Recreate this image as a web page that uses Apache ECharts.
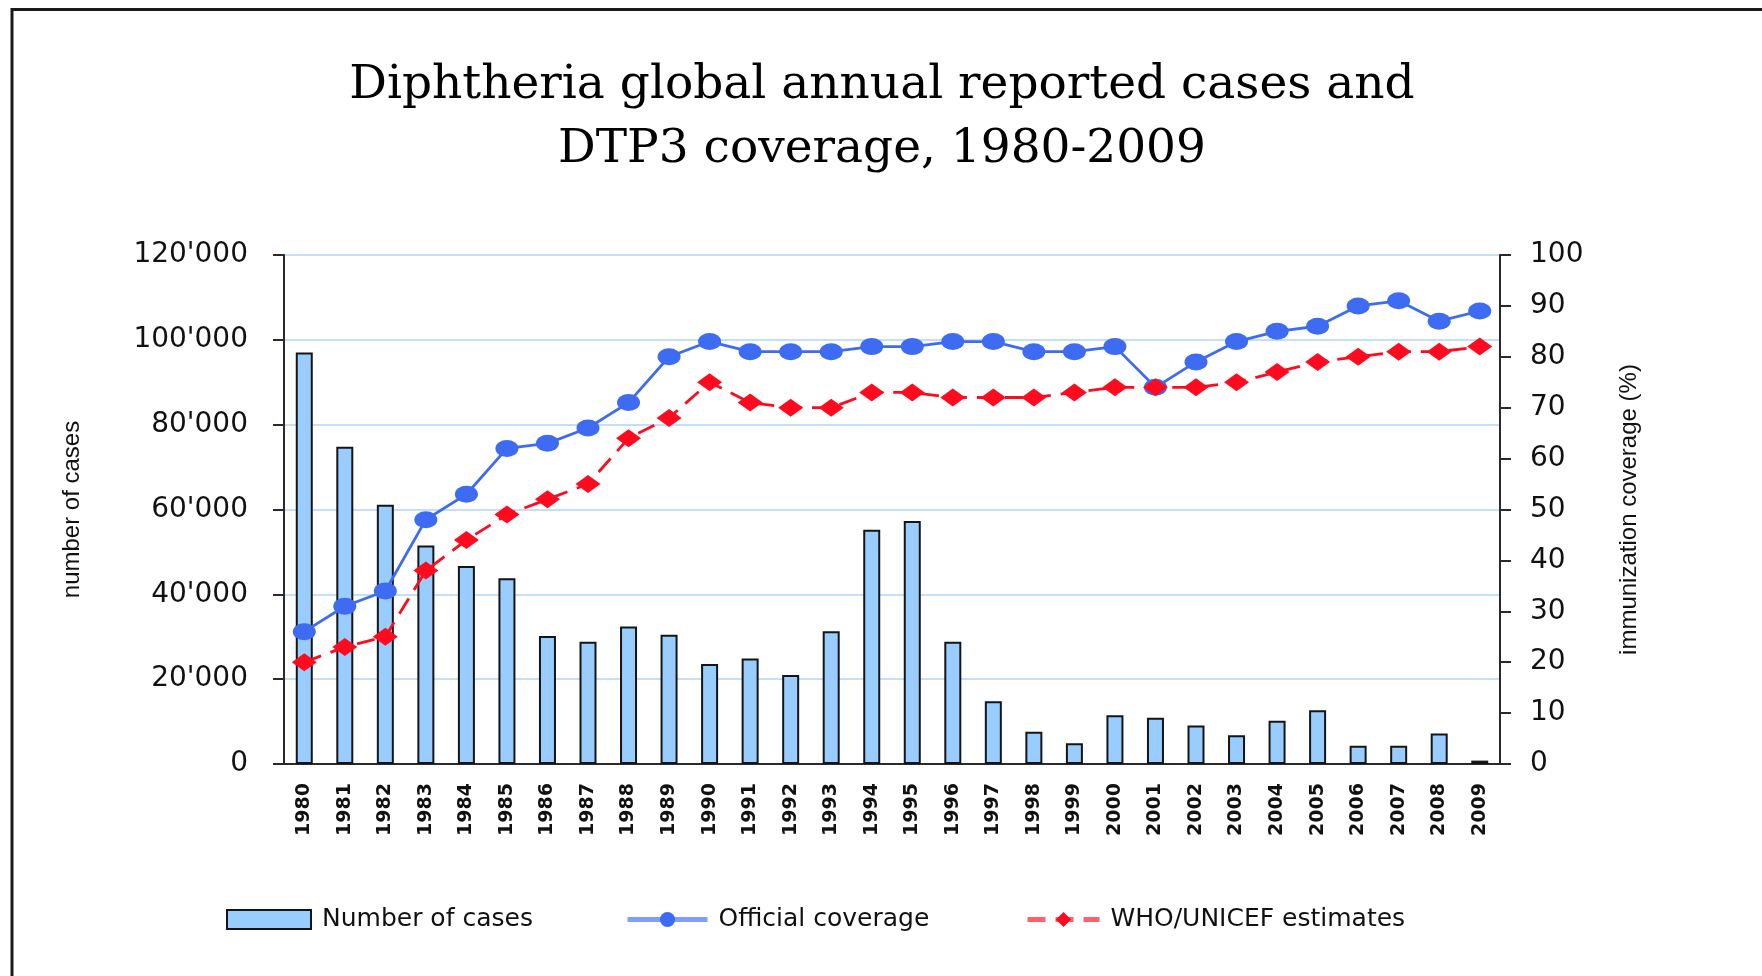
<!DOCTYPE html>
<html>
<head>
<meta charset="utf-8">
<script src="https://cdn.jsdelivr.net/npm/echarts@6/dist/echarts.min.js"></script>
<style>
  html, body { margin: 0; padding: 0; background: #fff; }
  #chart { width: 1762px; height: 976px; }
</style>
</head>
<body>
<div id="chart"></div>
<script>
const years = ['1980','1981','1982','1983','1984','1985','1986','1987','1988','1989','1990','1991','1992','1993','1994','1995','1996','1997','1998','1999','2000','2001','2002','2003','2004','2005','2006','2007','2008','2009'];
const cases = [97000, 74800, 61100, 51500, 46700, 43800, 30200, 28800, 32400, 30500, 23600, 24900, 21000, 31300, 55200, 57300, 28800, 14800, 7600, 4900, 11500, 10900, 9100, 6800, 10200, 12700, 4300, 4300, 7200, 800];
const officialCoverage = [26, 31, 34, 48, 53, 62, 63, 66, 71, 80, 83, 81, 81, 81, 82, 82, 83, 83, 81, 81, 82, 74, 79, 83, 85, 86, 90, 91, 87, 89];
const whoUnicef = [20, 23, 25, 38, 44, 49, 52, 55, 64, 68, 75, 71, 70, 70, 73, 73, 72, 72, 72, 73, 74, 74, 74, 75, 77, 79, 80, 81, 81, 82];
const leftTickLabels = ["0", "20'000", "40'000", "60'000", "80'000", "100'000", "120'000"];
const rightTickLabels = ["0", "10", "20", "30", "40", "50", "60", "70", "80", "90", "100"];
const seriesNames = ['Number of cases', 'Official coverage', 'WHO/UNICEF estimates'];

const chart = echarts.init(document.getElementById('chart'), null, { renderer: 'canvas' });
const axisCol = '#2a2a2a';
const blue = '#3D6BF2';
const red = '#FF0A1E';
const legendText = { fontFamily: 'DejaVu Sans', fontSize: 25, color: '#111', padding: [0, 0, 0, 6] };
const legendBase = { top: 902, itemWidth: 84, itemHeight: 19, textStyle: legendText };

const option = {
  animation: false,
  backgroundColor: '#ffffff',
  title: {
    text: 'Diphtheria global annual reported cases and\nDTP3 coverage, 1980-2009',
    left: 877,
    top: 49,
    textAlign: 'center',
    textStyle: { fontFamily: 'DejaVu Serif', fontSize: 47, fontWeight: 'normal', color: '#000', lineHeight: 64 }
  },
  graphic: [{
    type: 'rect', silent: true, z: -1,
    shape: { x: 12, y: 9.5, width: 1800, height: 1000 },
    style: { fill: 'none', stroke: '#1a1a1a', lineWidth: 3 }
  }],
  legend: [
    Object.assign({}, legendBase, { left: 221, data: [{ name: seriesNames[0], icon: 'rect' }] }),
    Object.assign({}, legendBase, { left: 620, itemWidth: 80, data: [{ name: seriesNames[1], lineStyle: { width: 5, opacity: 0.65 } }] }),
    Object.assign({}, legendBase, { left: 1020, itemWidth: 72, data: [{ name: seriesNames[2], lineStyle: { width: 5, opacity: 0.65 } }] })
  ],
  grid: { left: 284, right: 262, top: 255, bottom: 212, containLabel: false },
  xAxis: {
    type: 'category',
    data: years,
    axisLine: { lineStyle: { color: axisCol, width: 2 } },
    axisTick: { length: 8, lineStyle: { color: axisCol, width: 2 } },
    axisLabel: { rotate: 90, fontFamily: 'DejaVu Sans', fontWeight: 'bold', fontSize: 19, color: '#111', margin: 19 }
  },
  yAxis: [{
    type: 'value',
    min: 0, max: 120000, interval: 20000,
    name: 'number of cases',
    nameLocation: 'middle',
    nameRotate: 90,
    nameGap: 200,
    nameTextStyle: { fontFamily: 'Liberation Sans', fontSize: 24, color: '#111' },
    axisLine: { show: true, lineStyle: { color: axisCol, width: 2 } },
    axisTick: { show: true, length: 11, lineStyle: { color: axisCol, width: 2 } },
    axisLabel: {
      fontFamily: 'DejaVu Sans', fontSize: 28, color: '#111', margin: 36,
      formatter: function (v) { return leftTickLabels[Math.round(v / 20000)]; }
    },
    splitLine: { show: true, lineStyle: { color: '#C3DFFA', width: 2 } }
  }, {
    type: 'value',
    min: 0, max: 100, interval: 10,
    position: 'right',
    name: 'immunization coverage (%)',
    nameLocation: 'middle',
    nameRotate: 90,
    nameGap: 117,
    nameTextStyle: { fontFamily: 'Liberation Sans', fontSize: 24, color: '#111' },
    axisLine: { show: true, lineStyle: { color: axisCol, width: 2 } },
    axisTick: { show: true, length: 11, lineStyle: { color: axisCol, width: 2 } },
    axisLabel: {
      fontFamily: 'DejaVu Sans', fontSize: 28, color: '#111', margin: 30,
      formatter: function (v) { return rightTickLabels[Math.round(v / 10)]; }
    },
    splitLine: { show: false }
  }],
  series: [{
    name: seriesNames[0],
    type: 'bar',
    yAxisIndex: 0,
    data: cases,
    barWidth: 17,
    itemStyle: { color: '#99CCFF', borderColor: '#151515', borderWidth: 2 }
  }, {
    name: seriesNames[1],
    type: 'line',
    yAxisIndex: 1,
    data: officialCoverage,
    symbol: 'circle',
    symbolSize: [23, 17],
    itemStyle: { color: blue },
    lineStyle: { color: blue, width: 2.8 }
  }, {
    name: seriesNames[2],
    type: 'line',
    yAxisIndex: 1,
    data: whoUnicef,
    symbol: 'diamond',
    symbolSize: [25, 18],
    itemStyle: { color: red },
    lineStyle: { color: red, width: 2.8, type: [18, 10] }
  }]
};
chart.setOption(option);
</script>
</body>
</html>
